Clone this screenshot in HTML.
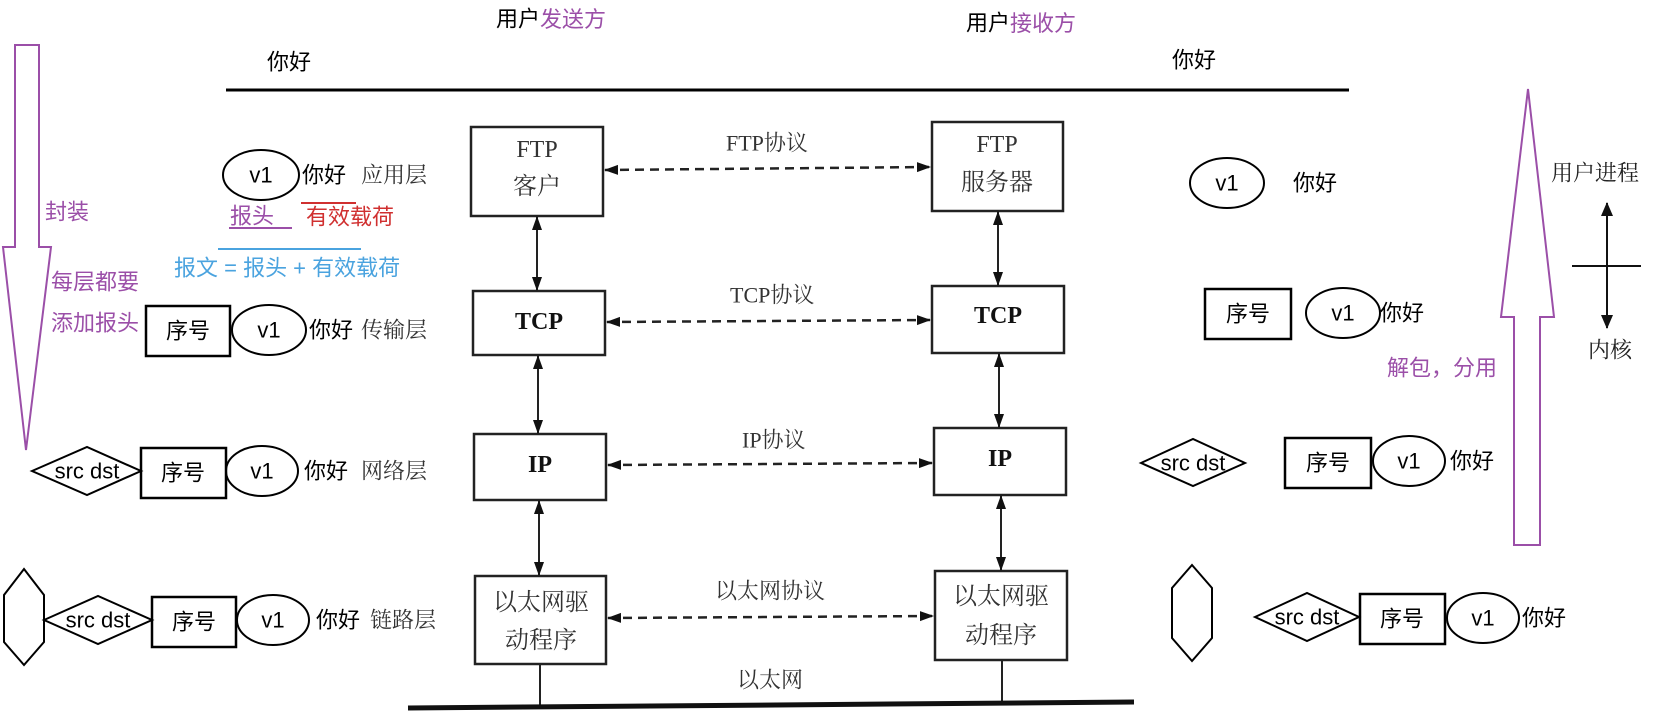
<!DOCTYPE html>
<html><head><meta charset="utf-8"><style>
html,body{margin:0;padding:0;background:#fff;}
svg{display:block;}
.s{font-family:"Liberation Sans","Noto Sans CJK SC",sans-serif;font-size:22px;fill:#000;dominant-baseline:central;}
.r{font-family:"Liberation Serif","Noto Serif CJK SC",serif;font-size:22px;fill:#333;dominant-baseline:central;}
.b{font-size:24px;}
.p{fill:#9b4fa8;}
</style></head><body>
<svg width="1656" height="716" viewBox="0 0 1656 716" xmlns="http://www.w3.org/2000/svg">
<defs>
<marker id="a" markerWidth="14" markerHeight="12" refX="13" refY="6" orient="auto-start-reverse" markerUnits="userSpaceOnUse"><path d="M0,1 L14,6 L0,11 Z" fill="#111"/></marker>
<marker id="b" markerWidth="14" markerHeight="20" refX="13" refY="7" orient="auto-start-reverse" markerUnits="userSpaceOnUse"><path d="M0,1 L14,7 L0,13 Z" fill="#111"/></marker>
</defs>
<text class="s" x="496" y="19">用户<tspan class="p">发送方</tspan></text>
<text class="s" x="966" y="23">用户<tspan class="p">接收方</tspan></text>
<text class="s" x="267" y="62">你好</text>
<text class="s" x="1172" y="60">你好</text>
<line x1="226" y1="90" x2="1349" y2="90" stroke="#000" stroke-width="3"/>

<path d="M15,45 L39,45 L39,247 L51,247 L26,450 L3,247 L15,247 Z" fill="none" stroke="#9b4fa8" stroke-width="2"/>
<text class="s p" x="45" y="212">封装</text>
<text class="s p" x="51" y="282">每层都要</text>
<text class="s p" x="51" y="323">添加报头</text>

<path d="M1514,545 L1540,545 L1540,317 L1554,317 L1528,89 L1501,317 L1514,317 Z" fill="none" stroke="#9b4fa8" stroke-width="2"/>
<text class="s p" x="1387" y="368">解包，分用</text>
<text class="r" x="1551" y="173" style="fill:#222">用户进程</text>
<text class="r" x="1588" y="350" style="fill:#222">内核</text>
<line x1="1607" y1="203" x2="1607" y2="328" stroke="#111" stroke-width="2" marker-start="url(#b)" marker-end="url(#b)"/>
<line x1="1572" y1="266" x2="1641" y2="266" stroke="#111" stroke-width="2"/>

<g fill="none" stroke="#222" stroke-width="2.5">
<rect x="471" y="127" width="132" height="89"/>
<rect x="932" y="122" width="131" height="89"/>
<rect x="473" y="291" width="132" height="64"/>
<rect x="932" y="286" width="132" height="67"/>
<rect x="474" y="434" width="132" height="66"/>
<rect x="934" y="428" width="132" height="67"/>
<rect x="475" y="576" width="131" height="88"/>
<rect x="935" y="571" width="132" height="89"/>
</g>
<text class="r b" x="537" y="150" text-anchor="middle">FTP</text>
<text class="r b" x="537" y="187" text-anchor="middle">客户</text>
<text class="r b" x="997" y="145" text-anchor="middle">FTP</text>
<text class="r b" x="997" y="183" text-anchor="middle">服务器</text>
<text class="r b" x="539" y="322" text-anchor="middle" font-weight="bold" style="fill:#111">TCP</text>
<text class="r b" x="998" y="316" text-anchor="middle" font-weight="bold" style="fill:#111">TCP</text>
<text class="r b" x="540" y="465" text-anchor="middle" font-weight="bold" style="fill:#111">IP</text>
<text class="r b" x="1000" y="459" text-anchor="middle" font-weight="bold" style="fill:#111">IP</text>
<text class="r b" x="541" y="603" text-anchor="middle">以太网驱</text>
<text class="r b" x="541" y="641" text-anchor="middle">动程序</text>
<text class="r b" x="1001" y="597" text-anchor="middle">以太网驱</text>
<text class="r b" x="1001" y="636" text-anchor="middle">动程序</text>

<g stroke="#222" stroke-width="2.5" stroke-dasharray="9,6">
<line x1="605" y1="170" x2="930" y2="167" marker-start="url(#a)" marker-end="url(#a)"/>
<line x1="607" y1="322" x2="930" y2="320" marker-start="url(#a)" marker-end="url(#a)"/>
<line x1="608" y1="465" x2="932" y2="463" marker-start="url(#a)" marker-end="url(#a)"/>
<line x1="608" y1="618" x2="933" y2="616" marker-start="url(#a)" marker-end="url(#a)"/>
</g>
<text class="r" x="726" y="143">FTP协议</text>
<text class="r" x="730" y="295">TCP协议</text>
<text class="r" x="742" y="440">IP协议</text>
<text class="r" x="715" y="591">以太网协议</text>
<text class="r" x="737" y="680">以太网</text>

<g stroke="#222" stroke-width="2">
<line x1="537" y1="217" x2="537" y2="290" marker-start="url(#a)" marker-end="url(#a)"/>
<line x1="538" y1="356" x2="538" y2="433" marker-start="url(#a)" marker-end="url(#a)"/>
<line x1="539" y1="501" x2="539" y2="575" marker-start="url(#a)" marker-end="url(#a)"/>
<line x1="998" y1="212" x2="998" y2="285" marker-start="url(#a)" marker-end="url(#a)"/>
<line x1="999" y1="354" x2="999" y2="427" marker-start="url(#a)" marker-end="url(#a)"/>
<line x1="1001" y1="496" x2="1001" y2="570" marker-start="url(#a)" marker-end="url(#a)"/>
<line x1="540" y1="665" x2="540" y2="707"/>
<line x1="1002" y1="661" x2="1002" y2="702"/>
</g>
<line x1="408" y1="708" x2="1134" y2="702" stroke="#111" stroke-width="5"/>

<g fill="none" stroke="#000" stroke-width="2">
<ellipse cx="261" cy="175" rx="38" ry="25"/>
<rect x="146" y="306" width="84" height="50" stroke-width="2.5"/>
<ellipse cx="269" cy="330" rx="37" ry="25"/>
<path d="M32,471 L87,447 L141,471 L87,495 Z"/>
<rect x="141" y="448" width="85" height="50" stroke-width="2.5"/>
<ellipse cx="262" cy="471" rx="36" ry="25"/>
<path d="M24,569 L44,595 L44,642 L24,665 L4,642 L4,595 Z"/>
<path d="M44,620 L98,596 L152,620 L98,644 Z"/>
<rect x="152" y="597" width="84" height="50" stroke-width="2.5"/>
<ellipse cx="273" cy="620" rx="36" ry="25"/>
</g>
<text class="s" x="261" y="175" text-anchor="middle">v1</text>
<text class="s" x="302" y="175">你好</text><text class="r" x="361" y="175">应用层</text>
<text class="s p" x="230" y="216">报头</text>
<line x1="229" y1="228" x2="292" y2="228" stroke="#9b4fa8" stroke-width="2"/>
<line x1="301" y1="203" x2="356" y2="203" stroke="#d03030" stroke-width="2"/>
<text class="s" x="306" y="217" style="fill:#d03030">有效载荷</text>
<line x1="218" y1="249" x2="361" y2="249" stroke="#4aa3df" stroke-width="2"/>
<text class="s" x="174" y="268" style="fill:#4aa3df">报文 = 报头 + 有效载荷</text>
<text class="s" x="188" y="331" text-anchor="middle">序号</text>
<text class="s" x="269" y="330" text-anchor="middle">v1</text>
<text class="s" x="309" y="330">你好</text><text class="r" x="361" y="330">传输层</text>
<text class="s" x="87" y="471" text-anchor="middle">src dst</text>
<text class="s" x="183" y="473" text-anchor="middle">序号</text>
<text class="s" x="262" y="471" text-anchor="middle">v1</text>
<text class="s" x="304" y="471">你好</text><text class="r" x="361" y="471">网络层</text>
<text class="s" x="98" y="620" text-anchor="middle">src dst</text>
<text class="s" x="194" y="622" text-anchor="middle">序号</text>
<text class="s" x="273" y="620" text-anchor="middle">v1</text>
<text class="s" x="316" y="620">你好</text><text class="r" x="370" y="620">链路层</text>

<g fill="none" stroke="#000" stroke-width="2">
<ellipse cx="1227" cy="183" rx="37" ry="25"/>
<rect x="1205" y="289" width="86" height="50" stroke-width="2.5"/>
<ellipse cx="1343" cy="313" rx="37" ry="25"/>
<path d="M1141,463 L1193,439 L1245,463 L1193,486 Z"/>
<rect x="1285" y="438" width="86" height="50" stroke-width="2.5"/>
<ellipse cx="1409" cy="461" rx="36" ry="25"/>
<path d="M1192,565 L1212,588 L1212,638 L1192,661 L1172,638 L1172,588 Z"/>
<path d="M1255,617 L1307,593 L1359,617 L1307,641 Z"/>
<rect x="1360" y="594" width="85" height="50" stroke-width="2.5"/>
<ellipse cx="1483" cy="618" rx="36" ry="25"/>
</g>
<text class="s" x="1227" y="183" text-anchor="middle">v1</text>
<text class="s" x="1293" y="183">你好</text>
<text class="s" x="1248" y="314" text-anchor="middle">序号</text>
<text class="s" x="1343" y="313" text-anchor="middle">v1</text>
<text class="s" x="1380" y="313">你好</text>
<text class="s" x="1193" y="463" text-anchor="middle">src dst</text>
<text class="s" x="1328" y="463" text-anchor="middle">序号</text>
<text class="s" x="1409" y="461" text-anchor="middle">v1</text>
<text class="s" x="1450" y="461">你好</text>
<text class="s" x="1307" y="617" text-anchor="middle">src dst</text>
<text class="s" x="1402" y="619" text-anchor="middle">序号</text>
<text class="s" x="1483" y="618" text-anchor="middle">v1</text>
<text class="s" x="1522" y="618">你好</text>
</svg>
</body></html>
